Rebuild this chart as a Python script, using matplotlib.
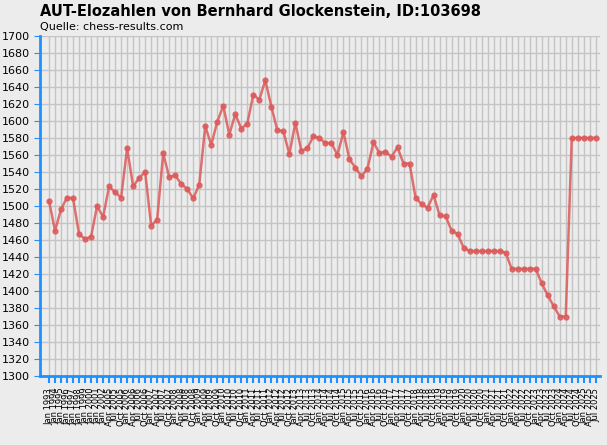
import matplotlib
matplotlib.use('Agg')
import matplotlib.pyplot as plt

elo = [1506, 1471, 1496, 1510, 1509, 1467, 1461, 1464, 1500, 1487,
       1523, 1516, 1510, 1568, 1523, 1533, 1540, 1477, 1484, 1562,
       1534, 1536, 1526, 1520, 1509, 1525, 1594, 1572, 1599, 1618,
       1584, 1608, 1591, 1597, 1631, 1625, 1648, 1617, 1589, 1588,
       1561, 1598, 1565, 1568, 1582, 1580, 1574, 1574, 1560, 1587,
       1555, 1545, 1535, 1544, 1575, 1562, 1564, 1558, 1569, 1550,
       1550, 1510, 1502, 1498, 1513, 1489, 1488, 1471, 1467, 1451,
       1447, 1447, 1447, 1447, 1447, 1447, 1445, 1426, 1426, 1426,
       1426, 1426, 1409, 1395, 1382, 1370, 1370, 1580, 1580, 1580,
       1580, 1580]

years_annual = list(range(1993, 2003))
labels = [f'Jan {y}' for y in years_annual]
quarters = ['Jan', 'Apr', 'Jul', 'Oct']
q_labels = [f'{m} {y}' for y in range(2005, 2026) for m in quarters]
labels += q_labels[q_labels.index('Apr 2005'):q_labels.index('Jul 2025') + 1]

bg = '#ececec'
blue = '#1e90ff'
fig = plt.figure(figsize=(6.07, 4.45), dpi=100, facecolor=bg)
ax = fig.add_axes([40 / 607, 1 - 376 / 445, 560 / 607, 340 / 445], facecolor=bg)

x = list(range(len(elo)))
ax.plot(x, elo, color='#dc5a5a', lw=1.8, marker='o', ms=3.5, alpha=0.85)

ax.set_ylim(1300, 1700)
ax.set_yticks(range(1300, 1701, 20))
ax.set_xlim(-1.5, len(elo) - 0.3)
ax.set_xticks(x)
ax.set_xticklabels(labels, rotation=90, fontsize=6)
ax.tick_params(axis='y', labelsize=8, color=blue, length=4)
ax.tick_params(axis='x', color=blue, length=5, width=1.5)
ax.grid(True, color='#c4c4c4', lw=1)
ax.set_axisbelow(True)
for s in ['top', 'right']:
    ax.spines[s].set_visible(False)
for s in ['left', 'bottom']:
    ax.spines[s].set_color(blue)
    ax.spines[s].set_linewidth(2)

fig.text(40 / 607, 1 - 11 / 445, 'AUT-Elozahlen von Bernhard Glockenstein, ID:103698',
         fontsize=10.5, fontweight='bold', va='center')
fig.text(40 / 607, 1 - 27 / 445, 'Quelle: chess-results.com', fontsize=8, va='center')

fig.savefig('out.png', dpi=100, facecolor=bg)
